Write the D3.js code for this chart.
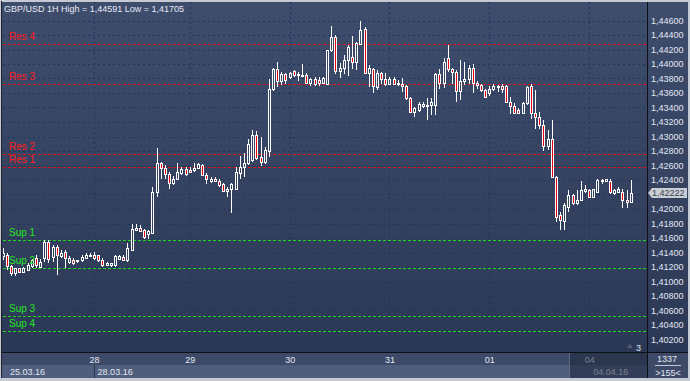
<!DOCTYPE html>
<html>
<head>
<meta charset="utf-8">
<script src="https://cdn.jsdelivr.net/npm/d3@7"></script>
<style>
  html, body { margin: 0; padding: 0; background: #c6cad2; }
  svg { display: block; font-family: "Liberation Sans", Arial, sans-serif; }
</style>
</head>
<body>
<svg id="chart" width="690" height="381"></svg>
<script>
// GBP/USD hourly candles
const opens = [
  1.4135, 1.4136, 1.4122, 1.4112, 1.4118, 1.4113, 1.4116, 1.4122, 1.4132, 1.4120,
  1.4133, 1.4154, 1.4134, 1.4147, 1.4135, 1.4141, 1.4127, 1.4130, 1.4128, 1.4129,
  1.4133, 1.4136, 1.4137, 1.4136, 1.4130, 1.4123, 1.4123, 1.4123, 1.4131, 1.4134,
  1.4130, 1.4143, 1.4171, 1.4174, 1.4171, 1.4165, 1.4167, 1.4224, 1.4264, 1.4257,
  1.4248, 1.4236, 1.4242, 1.4250, 1.4255, 1.4254, 1.4254, 1.4257, 1.4261, 1.4247,
  1.4239, 1.4241, 1.4239, 1.4234, 1.4225, 1.4228, 1.4228, 1.4250, 1.4258, 1.4263,
  1.4268, 1.4302, 1.4272, 1.4265, 1.4280, 1.4365, 1.4393, 1.4377, 1.4386, 1.4382,
  1.4390, 1.4386, 1.4385, 1.4385, 1.4374, 1.4379, 1.4378, 1.4374, 1.4373, 1.4419,
  1.4437, 1.4391, 1.4394, 1.4406, 1.4409, 1.4403, 1.4428, 1.4448, 1.4388, 1.4393,
  1.4368, 1.4387, 1.4379, 1.4373, 1.4379, 1.4373, 1.4372, 1.4369, 1.4353, 1.4334,
  1.4337, 1.4342, 1.4342, 1.4343, 1.4343, 1.4386, 1.4374, 1.4408, 1.4393, 1.4389,
  1.4363, 1.4377, 1.4379, 1.4394, 1.4374, 1.4371, 1.4364, 1.4360, 1.4365, 1.4369,
  1.4369, 1.4370, 1.4348, 1.4342, 1.4337, 1.4333, 1.4346, 1.4370, 1.4332, 1.4327,
  1.4316, 1.4287, 1.4297, 1.4244, 1.4192, 1.4184, 1.4203, 1.4219, 1.4208, 1.4212,
  1.4225, 1.4226, 1.4217, 1.4224, 1.4238, 1.4238, 1.4238, 1.4222, 1.4223, 1.4224,
  1.4213, 1.4209
];
const highs = [
  1.4146, 1.4139, 1.4123, 1.4119, 1.4119, 1.4120, 1.4126, 1.4131, 1.4136, 1.4131,
  1.4157, 1.4157, 1.4150, 1.4150, 1.4143, 1.4144, 1.4135, 1.4133, 1.4130, 1.4136,
  1.4139, 1.4140, 1.4141, 1.4137, 1.4133, 1.4127, 1.4126, 1.4137, 1.4137, 1.4136,
  1.4153, 1.4180, 1.4179, 1.4178, 1.4173, 1.4171, 1.4231, 1.4284, 1.4265, 1.4261,
  1.4251, 1.4245, 1.4263, 1.4258, 1.4258, 1.4258, 1.4263, 1.4264, 1.4262, 1.4249,
  1.4244, 1.4244, 1.4241, 1.4236, 1.4231, 1.4236, 1.4258, 1.4273, 1.4277, 1.4297,
  1.4309, 1.4308, 1.4300, 1.4285, 1.4379, 1.4394, 1.4403, 1.4389, 1.4388, 1.4389,
  1.4392, 1.4389, 1.4400, 1.4387, 1.4380, 1.4382, 1.4382, 1.4382, 1.4420, 1.4452,
  1.4440, 1.4401, 1.4412, 1.4426, 1.4438, 1.4431, 1.44591, 1.4451, 1.4399, 1.4394,
  1.4392, 1.4389, 1.4388, 1.4382, 1.4382, 1.4378, 1.4380, 1.4371, 1.4355, 1.4341,
  1.4348, 1.4348, 1.4353, 1.4353, 1.4388, 1.4393, 1.4408, 1.4426, 1.4394, 1.4392,
  1.4405, 1.4403, 1.4399, 1.4400, 1.4376, 1.4373, 1.4366, 1.4369, 1.4372, 1.4371,
  1.4372, 1.4371, 1.4355, 1.4346, 1.4339, 1.4348, 1.4370, 1.4372, 1.4364, 1.4334,
  1.4323, 1.4309, 1.4323, 1.4245, 1.4196, 1.4208, 1.4226, 1.4221, 1.4226, 1.4238,
  1.4233, 1.4228, 1.4228, 1.4242, 1.4242, 1.4242, 1.4242, 1.4228, 1.4231, 1.4228,
  1.4226, 1.4240
];
const lows = [
  1.4130, 1.4116, 1.4108, 1.4108, 1.4112, 1.4112, 1.4115, 1.4119, 1.4119, 1.4119,
  1.4127, 1.4126, 1.4127, 1.4109, 1.4133, 1.4118, 1.4124, 1.4123, 1.4126, 1.4127,
  1.4132, 1.4134, 1.4130, 1.4127, 1.4120, 1.4122, 1.4120, 1.4120, 1.4130, 1.4129,
  1.4127, 1.4142, 1.4169, 1.4168, 1.4158, 1.4159, 1.4166, 1.4216, 1.4242, 1.4241,
  1.4228, 1.4233, 1.4241, 1.4247, 1.4245, 1.4249, 1.4251, 1.4255, 1.4245, 1.4234,
  1.4236, 1.4237, 1.4231, 1.4224, 1.4217, 1.4195, 1.4226, 1.4242, 1.4244, 1.4261,
  1.4265, 1.4268, 1.4259, 1.4262, 1.4272, 1.4363, 1.4368, 1.4371, 1.4373, 1.4379,
  1.4382, 1.4377, 1.4382, 1.4372, 1.4369, 1.4370, 1.4370, 1.4373, 1.4372, 1.4416,
  1.4386, 1.4380, 1.4386, 1.4383, 1.4393, 1.4392, 1.4426, 1.4386, 1.4368, 1.4360,
  1.4364, 1.4373, 1.4370, 1.4371, 1.4371, 1.4369, 1.4362, 1.4350, 1.4332, 1.4327,
  1.4334, 1.4339, 1.4323, 1.4330, 1.4330, 1.4366, 1.4367, 1.4389, 1.4373, 1.4347,
  1.4351, 1.4371, 1.4373, 1.4360, 1.4366, 1.4362, 1.4354, 1.4356, 1.4363, 1.4362,
  1.4360, 1.4346, 1.4331, 1.4331, 1.4331, 1.4331, 1.4343, 1.4324, 1.4311, 1.4311,
  1.4280, 1.4281, 1.4243, 1.4182, 1.41705, 1.4171, 1.4196, 1.4205, 1.4205, 1.4211,
  1.4222, 1.4216, 1.4216, 1.4222, 1.4234, 1.4237, 1.4221, 1.4219, 1.4222, 1.4201,
  1.4201, 1.4208
];
const closes = [
  1.4140, 1.4122, 1.4112, 1.4118, 1.4113, 1.4118, 1.4123, 1.4129, 1.4123, 1.4127,
  1.4154, 1.4131, 1.4147, 1.4137, 1.4140, 1.4133, 1.4132, 1.4126, 1.4129, 1.4134,
  1.4136, 1.4137, 1.4133, 1.4130, 1.4123, 1.4125, 1.4126, 1.4135, 1.4135, 1.4130,
  1.4146, 1.4173, 1.4174, 1.4169, 1.4162, 1.4169, 1.4224, 1.4264, 1.4257, 1.4248,
  1.4236, 1.4242, 1.4251, 1.4255, 1.4248, 1.4251, 1.4257, 1.4262, 1.4247, 1.4241,
  1.4241, 1.4238, 1.4233, 1.4225, 1.4228, 1.4235, 1.4251, 1.4258, 1.4264, 1.4290,
  1.4302, 1.4270, 1.4265, 1.4281, 1.4366, 1.4393, 1.4377, 1.4386, 1.4378, 1.4387,
  1.4385, 1.4385, 1.4383, 1.4374, 1.4379, 1.4373, 1.4374, 1.4380, 1.4419, 1.4437,
  1.4391, 1.4394, 1.4406, 1.4423, 1.4403, 1.4429, 1.4447, 1.4388, 1.4394, 1.4370,
  1.4388, 1.4379, 1.4373, 1.4379, 1.4373, 1.4374, 1.4369, 1.4353, 1.4334, 1.4339,
  1.4345, 1.4345, 1.4343, 1.4347, 1.4386, 1.4374, 1.4403, 1.4393, 1.4389, 1.4363,
  1.4377, 1.4379, 1.4394, 1.4374, 1.4371, 1.4364, 1.4355, 1.4366, 1.4369, 1.4368,
  1.4366, 1.4348, 1.4342, 1.4333, 1.4333, 1.4346, 1.4368, 1.4332, 1.4327, 1.4316,
  1.4287, 1.4297, 1.4244, 1.4189, 1.4185, 1.4205, 1.4219, 1.4208, 1.4212, 1.4226,
  1.4227, 1.4217, 1.4227, 1.4240, 1.4240, 1.4241, 1.4224, 1.4226, 1.4227, 1.4212,
  1.4210, 1.42222
];

// day separators (candle index where each day starts)
const dayIndex = [22, 45, 69, 93, 117, 141];
const dayLabels = ["28", "29", "30", "31", "01", "04"];
const dateLabels = ["25.03.16", "28.03.16", "04.04.16"];

// support / resistance levels
const resNames = ["Res 4", "Res 3", "Res 2", "Res 1"];
const resValues = [1.44272, 1.43720, 1.42754, 1.42574];
const supNames = ["Sup 1", "Sup 2", "Sup 3", "Sup 4"];
const supValues = [1.41571, 1.41185, 1.40518, 1.40315];

const priceTicks = d3.range(1.402, 1.4461, 0.002);
const lastPrice = 1.42222;
const titleText = "GBP/USD 1H High = 1,44591 Low = 1,41705";

const W = 690, H = 381;
const plot = { left: 3, right: 647, top: 2, bottom: 352 };

const svg = d3.select("#chart");
const defs = svg.append("defs");

const grad = defs.append("linearGradient")
    .attr("id", "bg")
    .attr("gradientUnits", "userSpaceOnUse")
    .attr("x1", 0).attr("y1", plot.top).attr("x2", 0).attr("y2", plot.bottom);
grad.append("stop").attr("offset", 0).attr("stop-color", "#3f4d6d");
grad.append("stop").attr("offset", 1).attr("stop-color", "#2b3855");

defs.append("clipPath").attr("id", "plotClip")
    .append("rect")
    .attr("x", plot.left).attr("y", plot.top)
    .attr("width", plot.right - plot.left).attr("height", plot.bottom - plot.top);

const locale = d3.formatLocale({ decimal: ",", thousands: ".", grouping: [3], currency: ["", ""] });
const fmt = locale.format(".5f");

const x = d3.scaleLinear().domain([0, 151]).range([2.6, 2.6 + 4.16 * 151]);
const y = d3.scaleLinear().domain([1.402, 1.446]).range([339.5, 20.5]);

// frame
svg.append("rect").attr("width", W).attr("height", H).attr("fill", "#c6cad2");
svg.append("rect").attr("x", 1).attr("y", 1).attr("width", 1).attr("height", 377).attr("fill", "#1c2232");
svg.append("rect")
    .attr("x", 2).attr("y", plot.top)
    .attr("width", 686).attr("height", plot.bottom - plot.top)
    .attr("fill", "url(#bg)");

// bottom axis bands
svg.append("rect").attr("x", 2).attr("y", 353).attr("width", 686).attr("height", 12).attr("fill", "#3c4a68");
svg.append("rect").attr("x", 2).attr("y", 365).attr("width", 646).attr("height", 13).attr("fill", "#4f5e7c");
svg.append("rect").attr("x", 2).attr("y", 352).attr("width", 686).attr("height", 1).attr("fill", "#0d1018");
svg.append("rect").attr("x", plot.right).attr("y", plot.top).attr("width", 1).attr("height", 376).attr("fill", "#0d1018");

const g = svg.append("g").attr("clip-path", "url(#plotClip)");

// horizontal grid
g.append("g").selectAll("line")
  .data(priceTicks)
  .join("line")
    .attr("x1", plot.left).attr("x2", plot.right)
    .attr("y1", d => Math.round(y(d)) + 0.5).attr("y2", d => Math.round(y(d)) + 0.5)
    .attr("stroke", "#1c3663").attr("stroke-dasharray", "2,3");

// vertical day grid
g.append("g").selectAll("line")
  .data(dayIndex)
  .join("line")
    .attr("x1", d => Math.round(x(d)) + 0.5).attr("x2", d => Math.round(x(d)) + 0.5)
    .attr("y1", plot.top).attr("y2", plot.bottom)
    .attr("stroke", "#1c3663").attr("stroke-dasharray", "2,3");

// level lines
function levelLines(values, color) {
    g.append("g").selectAll("line")
      .data(values)
      .join("line")
        .attr("x1", plot.left).attr("x2", plot.right)
        .attr("y1", d => Math.round(y(d)) + 0.5).attr("y2", d => Math.round(y(d)) + 0.5)
        .attr("stroke", color).attr("stroke-dasharray", "3,2");
}
levelLines(resValues, "#e01414");
levelLines(supValues, "#1ed81e");

// candles
const candles = d3.range(opens.length).map(i => ({
    i, o: opens[i], h: highs[i], l: lows[i], c: closes[i]
}));

const cg = g.append("g").selectAll("g")
  .data(candles)
  .join("g")
    .attr("transform", d => `translate(${Math.round(x(d.i))},0)`);

cg.append("rect")
    .attr("x", 0).attr("width", 1)
    .attr("y", d => Math.round(y(d.h)))
    .attr("height", d => Math.max(1, Math.round(y(d.l)) - Math.round(y(d.h))))
    .attr("fill", "#ffffff");

function bodyTop(d) { return Math.round(y(Math.max(d.o, d.c))); }
function bodyBot(d) { return Math.max(bodyTop(d) + 1, Math.round(y(Math.min(d.o, d.c)))); }

cg.append("rect")
    .attr("x", -1).attr("width", 3)
    .attr("y", d => bodyTop(d))
    .attr("height", d => bodyBot(d) - bodyTop(d) + 1)
    .attr("fill", "#ffffff");

cg.filter(d => bodyBot(d) - bodyTop(d) >= 2)
  .append("rect")
    .attr("x", 0).attr("width", 1)
    .attr("y", d => bodyTop(d) + 1)
    .attr("height", d => bodyBot(d) - bodyTop(d) - 1)
    .attr("fill", d => d.c < d.o ? "#e8000c" : "url(#bg)");

// level labels
function levelLabels(names, values, color) {
    svg.append("g").selectAll("text")
      .data(names)
      .join("text")
        .attr("x", 9)
        .attr("y", (d, i) => Math.round(y(values[i])) - 4.5)
        .attr("fill", color)
        .style("font-size", "10px")
        .text(d => d);
}
levelLabels(resNames, resValues, "#ff1c1c");
levelLabels(supNames, supValues, "#22e622");

// title
svg.append("text")
    .attr("x", 4).attr("y", 11.5)
    .attr("fill", "#e6ebf4")
    .style("font-size", "9px")
    .text(titleText);

// price axis (the tick hidden behind the last-price tag is left out)
const axisTicks = priceTicks.filter(v => Math.abs(y(v) - y(lastPrice)) > 8);
const yAxis = svg.append("g")
    .attr("transform", `translate(${plot.right + 3},0)`)
    .call(d3.axisRight(y).tickValues(axisTicks).tickSize(0).tickPadding(1).tickFormat(fmt));
yAxis.select(".domain").remove();
yAxis.selectAll("text")
    .attr("fill", "#e2e8f2")
    .style("font-size", "9px")
    .style("font-family", "'Liberation Sans', Arial, sans-serif");

// last price tag
const py = y(lastPrice);
const tag = svg.append("g").attr("transform", `translate(0,${py})`);
tag.append("path")
    .attr("d", "M648,0 L652,-5 L687,-5 L687,5 L652,5 Z")
    .attr("fill", "#c9cdd4");
tag.append("text")
    .attr("x", 652).attr("y", 3.3)
    .attr("fill", "#3a4254")
    .style("font-size", "9px")
    .text(fmt(lastPrice));

// time axis
svg.append("g").selectAll("text")
  .data(dayIndex.slice(0, 5))
  .join("text")
    .attr("x", d => x(d) + 0.5)
    .attr("y", 363)
    .attr("text-anchor", "middle")
    .attr("fill", "#e2e8f2")
    .style("font-size", "9px")
    .text((d, i) => dayLabels[i]);

svg.append("rect").attr("x", Math.round(x(dayIndex[0]))).attr("y", 365).attr("width", 1).attr("height", 13).attr("fill", "#2a3550");
svg.append("text").attr("x", 10).attr("y", 375).attr("fill", "#e2e8f2").style("font-size", "9px").text(dateLabels[0]);
svg.append("text").attr("x", x(dayIndex[0]) + 3.5).attr("y", 375).attr("fill", "#e2e8f2").style("font-size", "9px").text(dateLabels[1]);

// faded area at the right end of the time axis
svg.append("text")
    .attr("x", x(dayIndex[5]) + 0.5).attr("y", 363)
    .attr("text-anchor", "middle").attr("fill", "#e2e8f2")
    .style("font-size", "9px").text(dayLabels[5]);
svg.append("text").attr("x", x(dayIndex[5]) + 4).attr("y", 375).attr("fill", "#e2e8f2").style("font-size", "9px").text(dateLabels[2]);
svg.append("rect").attr("x", 569).attr("y", 353).attr("width", 78).attr("height", 25).attr("fill", "#1c2438").attr("opacity", 0.55);
svg.append("rect").attr("x", 569).attr("y", 353).attr("width", 1).attr("height", 25).attr("fill", "#5d6a85");

// corner panel
svg.append("rect").attr("x", 648).attr("y", 353).attr("width", 40).attr("height", 25).attr("fill", "#3c4a68");
svg.append("text").attr("x", 667).attr("y", 362).attr("text-anchor", "middle").attr("fill", "#e2e8f2").style("font-size", "9px").text("1337");
svg.append("rect").attr("x", 655).attr("y", 365).attr("width", 26).attr("height", 1).attr("fill", "#c0c8d8");
svg.append("text").attr("x", 668).attr("y", 375.5).attr("text-anchor", "middle").attr("fill", "#e2e8f2").style("font-size", "9px").text(">155<");

// bar counter in the plot corner
svg.append("path").attr("d", "M627,348 L630,344 L633,348 Z").attr("fill", "#56627a");
svg.append("text").attr("x", 636).attr("y", 350.5).attr("fill", "#e2e8f2").style("font-size", "9px").text("3");
</script>
</body>
</html>
